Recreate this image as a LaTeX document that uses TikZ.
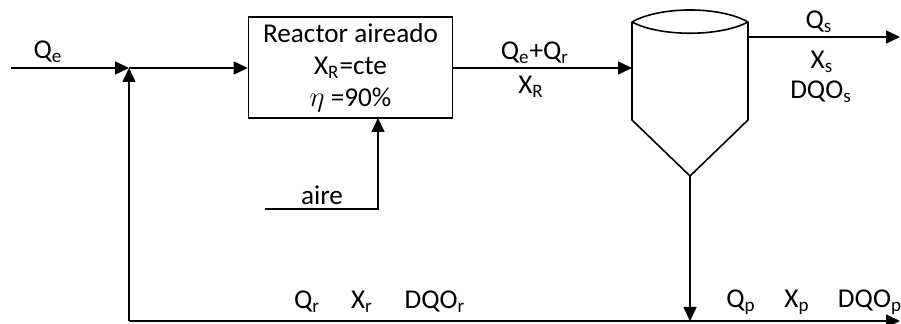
\documentclass[tikz,border=0pt]{standalone}
\usepackage{fontspec}
\setmainfont{Carlito}
\usepackage{tikz}
\usetikzlibrary{arrows.meta, positioning}

\begin{document}
\begin{tikzpicture}[
    x=0.5pt, y=-0.5pt,
    every node/.style={font=\fontsize{13.6}{16}\selectfont, align=center, inner sep=1pt},
    unit/.style={rectangle, draw=black, line width=0.8pt, minimum width=102pt, minimum height=50.5pt, inner sep=2pt},
    flow/.style={-{Triangle[length=7pt, width=6.5pt]}, line width=0.8pt},
    pipe/.style={line width=0.8pt}
]
\useasboundingbox (0,0) rectangle (901,324);

% Reactor
\node[unit] (reactor) at (350.5,67.5) {Reactor aireado\\X\textsubscript{R}=cte\\$\eta$ =90\%};

% Clarifier
\coordinate (clar-tl) at (632,22);
\coordinate (clar-tr) at (748,22);
\coordinate (clar-in) at (632,68);
\coordinate (clar-out) at (748,37);
\coordinate (clar-bot) at (690,176);
\draw[pipe] (clar-tl) -- (632,120) -- (clar-bot) -- (748,120) -- (clar-tr);
\draw[pipe] (clar-tl) .. controls (660,6) and (720,6) .. (clar-tr);
\draw[pipe] (clar-tl) .. controls (660,37) and (720,37) .. (clar-tr);

% Points of the lines
\coordinate (qe-in) at (11,68);
\coordinate (mix) at (129,68);
\coordinate (rec-corner) at (129,321);
\coordinate (tee) at (690,321);
\coordinate (purge-out) at (900,321);
\coordinate (qs-out) at (900,37);
\coordinate (air-in) at (265,209);
\coordinate (air-pt) at (378,118);

% Connections
\draw[flow] (qe-in) -- (mix);
\draw[flow] (mix) -- (reactor.west |- mix);
\draw[flow] (air-in) -| (air-pt);
\draw[flow] (reactor.east |- mix) -- (clar-in);
\draw[flow] (clar-out) -- (qs-out);
\draw[flow] (clar-bot) -- (tee);
\draw[flow] (rec-corner) -- (purge-out);
\draw[flow] (rec-corner) -- (mix);

% Labels
\node (lqe) at (48,52) {Q\textsubscript{e}};
\node (lair) at (322,195) {aire};
\node (lqeqr) at (535,53) {Q\textsubscript{e}+Q\textsubscript{r}};
\node (lxr) at (531,87) {X\textsubscript{R}};
\node (lqs) at (819,22) {Q\textsubscript{s}};
\node (lxs) at (822,62) {X\textsubscript{s}};
\node (ldqos) at (821,92) {DQO\textsubscript{s}};
\node (lqr) at (307,302) {Q\textsubscript{r}};
\node (lxrr) at (362,302) {X\textsubscript{r}};
\node (ldqor) at (435,302) {DQO\textsubscript{r}};
\node (lqp) at (741,302) {Q\textsubscript{p}};
\node (lxp) at (797,302) {X\textsubscript{p}};
\node (ldqop) at (870,302) {DQO\textsubscript{p}};

\end{tikzpicture}
\end{document}
